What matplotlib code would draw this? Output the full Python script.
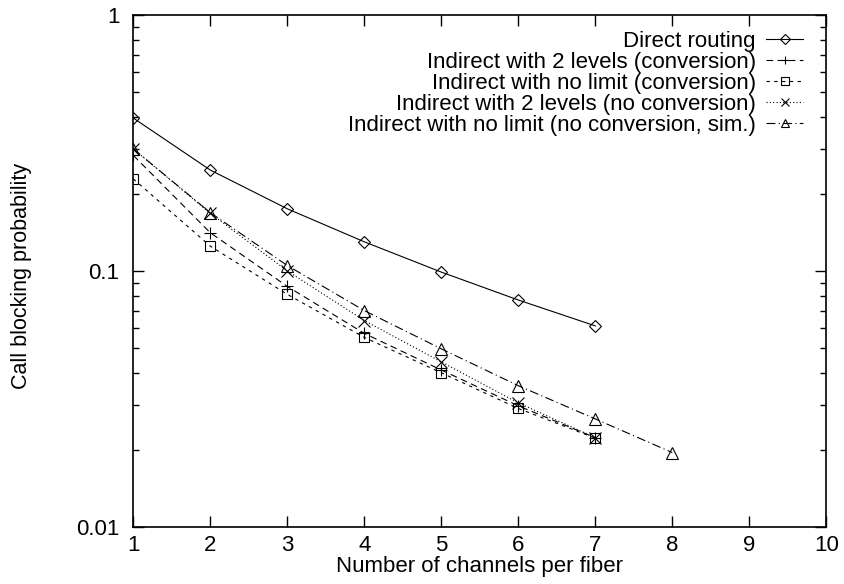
import matplotlib
matplotlib.use("Agg")
import matplotlib.pyplot as plt
from matplotlib.ticker import FixedLocator, FixedFormatter, LogLocator, NullFormatter

plt.rcParams['font.family'] = ['Liberation Sans', 'DejaVu Sans']

channels = [1, 2, 3, 4, 5, 6, 7]
channels_sim = [1, 2, 3, 4, 5, 6, 7, 8]

direct = [0.396, 0.248, 0.175, 0.130, 0.099, 0.077, 0.061]
ind2_conv = [0.283, 0.141, 0.087, 0.057, 0.041, 0.0297, 0.0223]
indnl_conv = [0.229, 0.125, 0.081, 0.055, 0.040, 0.0290, 0.0222]
ind2_noconv = [0.300, 0.168, 0.100, 0.064, 0.0441, 0.0305, 0.0223]
indnl_noconv_sim = [0.300, 0.169, 0.105, 0.070, 0.0496, 0.0356, 0.0264, 0.0195]

labels = [
    'Direct routing',
    'Indirect with 2 levels (conversion)',
    'Indirect with no limit (conversion)',
    'Indirect with 2 levels (no conversion)',
    'Indirect with no limit (no conversion, sim.)',
]

fig = plt.figure(figsize=(8.44, 5.84), dpi=100)
ax = fig.add_axes([0.158, 0.098, 0.821, 0.876])

common = dict(color='black', linewidth=0.8, markersize=8,
              markerfacecolor='none', markeredgecolor='black', markeredgewidth=0.8)

ax.plot(channels, direct, linestyle='-', marker='D', label=labels[0],
        **{**common, 'markersize': 6.5})
ax.plot(channels, ind2_conv, linestyle=(0, (6, 4)), marker='+', label=labels[1], **common)
ax.plot(channels, indnl_conv, linestyle=(0, (3, 4)), marker='s', label=labels[2],
        **{**common, 'markersize': 7.5})
ax.plot(channels, ind2_noconv, linestyle=(0, (1, 2)), marker='x', label=labels[3], **common)
ax.plot(channels_sim, indnl_noconv_sim, linestyle=(0, (8, 3, 1, 3)), marker='^',
        label=labels[4], **common)

ax.set_yscale('log')
ax.set_xlim(1, 10)
ax.set_ylim(0.01, 1)

ax.xaxis.set_major_locator(FixedLocator(range(1, 11)))
ax.yaxis.set_major_locator(FixedLocator([0.01, 0.1, 1]))
ax.yaxis.set_major_formatter(FixedFormatter(['0.01', '0.1', '1']))
ax.yaxis.set_minor_locator(LogLocator(base=10, subs=range(2, 10)))
ax.yaxis.set_minor_formatter(NullFormatter())

ax.tick_params(which='both', direction='in', top=True, right=True, labelsize=16, width=1)
ax.tick_params(which='major', length=8)
ax.tick_params(which='minor', length=4)
ax.tick_params(axis='x', pad=6)
ax.tick_params(axis='y', pad=10)
for s in ax.spines.values():
    s.set_linewidth(1.2)

ax.set_xlabel('Number of channels per fiber', fontsize=16)
ax.set_ylabel('Call blocking probability', fontsize=15.5)
ax.xaxis.set_label_coords(0.5, -0.058)
ax.yaxis.set_label_coords(-0.146, 0.49)

leg = ax.legend(loc='upper right', bbox_to_anchor=(0.967, 0.969), frameon=False,
                markerfirst=False, fontsize=16, handlelength=1.7, labelspacing=0.0,
                handletextpad=0.45, borderpad=0, borderaxespad=0, markerscale=0.75,
                alignment='right')
for t in leg.get_texts():
    t.set_ha('right')
leg._legend_box.align = 'right'

fig.savefig('out.png', dpi=100)
